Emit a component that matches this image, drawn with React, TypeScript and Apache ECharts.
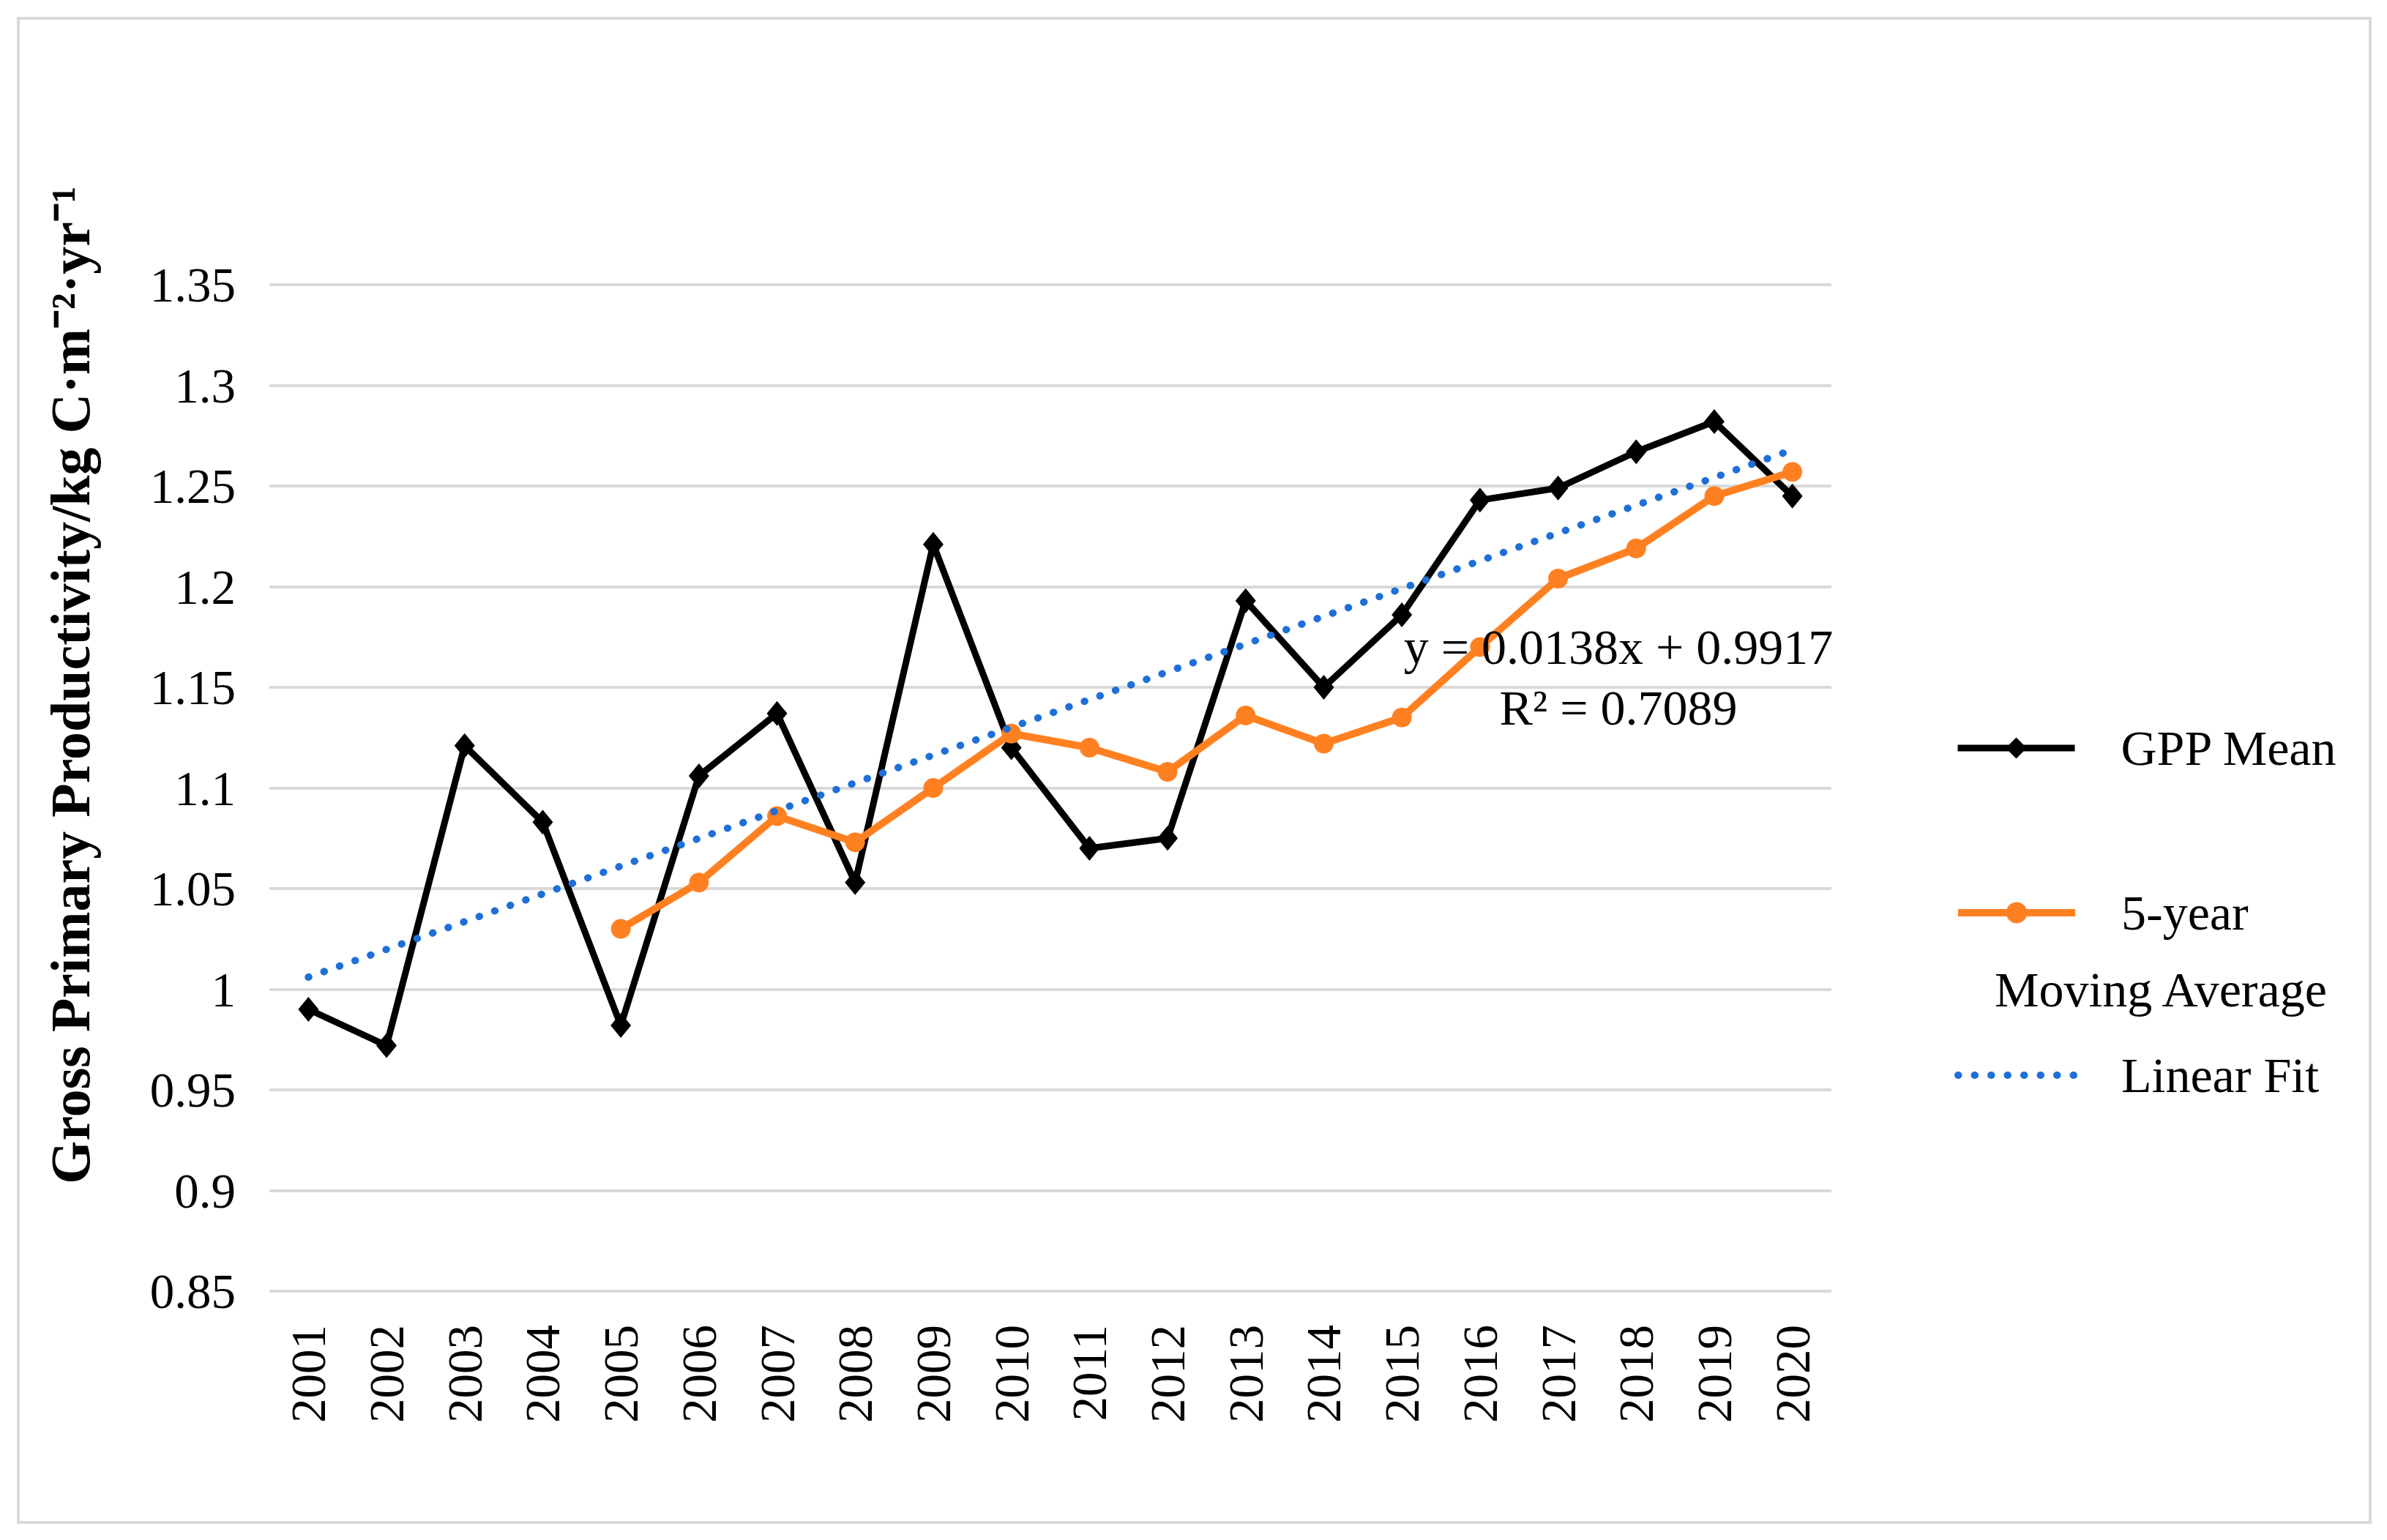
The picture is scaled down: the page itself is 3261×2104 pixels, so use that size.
import React, { useEffect, useRef } from "react";
import * as echarts from "echarts";

const years = ["2001","2002","2003","2004","2005","2006","2007","2008","2009","2010","2011","2012","2013","2014","2015","2016","2017","2018","2019","2020"];
const gppMean = [0.99, 0.972, 1.121, 1.083, 0.982, 1.106, 1.137, 1.053, 1.221, 1.12, 1.07, 1.075, 1.193, 1.15, 1.186, 1.243, 1.249, 1.267, 1.282, 1.245];
const movingAvg = [null, null, null, null, 1.03, 1.053, 1.086, 1.073, 1.1, 1.127, 1.12, 1.108, 1.136, 1.122, 1.135, 1.17, 1.204, 1.219, 1.245, 1.257];
const linearFit = [1.006, null, null, null, null, null, null, null, null, null, null, null, null, null, null, null, null, null, null, 1.268];
const equationText = "y = 0.0138x + 0.9917";
const r2Text = "R\u00B2 = 0.7089";
const yTitle = "Gross Primary Productivity/kg C\u00B7m\u207B\u00B2\u00B7yr\u207B\u00B9";

const FONT = '"Liberation Serif", "Times New Roman", serif';
const BLACK = "#000000";
const ORANGE = "#FF8021";
const BLUE = "#1F6FD8";
const DOTS = [0.5, 22];

export default function App() {
  const ref = useRef<HTMLDivElement>(null);
  useEffect(() => {
    if (!ref.current) return;
    const chart = echarts.init(ref.current, undefined, { renderer: "svg" });
    const legendBase = {
      orient: "vertical",
      left: 2665,
      itemWidth: 160,
      itemHeight: 36,
      selectedMode: false,
      textStyle: { fontFamily: FONT, fontSize: 68, color: "#000", lineHeight: 80, padding: [0, 0, 0, 58] },
    };
    chart.setOption({
      animation: false,
      backgroundColor: "#ffffff",
      grid: { left: 368, top: 389, width: 2134, height: 1375, containLabel: false },
      xAxis: {
        type: "category",
        data: years,
        boundaryGap: true,
        axisLine: { show: false },
        axisTick: { show: false },
        axisLabel: { rotate: 90, margin: 46, fontFamily: FONT, fontSize: 67, color: "#000" },
        splitLine: { show: false },
      },
      yAxis: {
        type: "value",
        min: 0.85,
        max: 1.35,
        interval: 0.05,
        axisLine: { show: false },
        axisTick: { show: false },
        axisLabel: { margin: 46, fontFamily: FONT, fontSize: 67, color: "#000" },
        splitLine: { show: true, lineStyle: { color: "#D9D9D9", width: 4 } },
      },
      legend: [
        {
          ...legendBase,
          top: 977,
          data: [{ name: "GPP Mean", lineStyle: { width: 9, color: BLACK } }],
        },
        {
          ...legendBase,
          top: 1202,
          data: [{ name: "5-year Moving Average", lineStyle: { width: 10, color: ORANGE } }],
          formatter: () => "5-year",
        },
        {
          ...legendBase,
          top: 1424,
          data: [
            {
              name: "Linear Fit",
              itemStyle: { opacity: 0 },
              lineStyle: { width: 10, color: BLUE, type: DOTS, cap: "round" },
            },
          ],
        },
      ],
      graphic: [
        {
          type: "rect",
          shape: { x: 25, y: 25, width: 3213, height: 2055 },
          style: { fill: "none", stroke: "#D9D9D9", lineWidth: 4 },
          silent: true,
        },
        {
          type: "text",
          x: 96,
          y: 936,
          rotation: Math.PI / 2,
          style: {
            text: yTitle,
            fontFamily: FONT,
            fontSize: 76,
            fontWeight: "bold",
            fill: "#000",
            align: "center",
            verticalAlign: "middle",
          },
        },
        {
          type: "text",
          x: 2211,
          y: 884,
          z: 100,
          style: { text: equationText, fontFamily: FONT, fontSize: 68, fill: "#000", align: "center", verticalAlign: "middle" },
        },
        {
          type: "text",
          x: 2211,
          y: 967,
          z: 100,
          style: { text: r2Text, fontFamily: FONT, fontSize: 68, fill: "#000", align: "center", verticalAlign: "middle" },
        },
        {
          type: "text",
          x: 2725,
          y: 1352,
          style: { text: "Moving Average", fontFamily: FONT, fontSize: 68, fill: "#000", align: "left", verticalAlign: "middle" },
        },
      ],
      series: [
        {
          name: "GPP Mean",
          type: "line",
          data: gppMean,
          z: 2,
          symbol: "diamond",
          symbolSize: [28, 34],
          itemStyle: { color: BLACK },
          lineStyle: { color: BLACK, width: 9 },
        },
        {
          name: "5-year Moving Average",
          type: "line",
          data: movingAvg,
          z: 3,
          symbol: "circle",
          symbolSize: 27,
          itemStyle: { color: ORANGE },
          lineStyle: { color: ORANGE, width: 10 },
        },
        {
          name: "Linear Fit",
          type: "line",
          data: linearFit,
          connectNulls: true,
          z: 4,
          symbol: "none",
          itemStyle: { color: BLUE },
          lineStyle: { color: BLUE, width: 10, type: DOTS, cap: "round" },
        },
      ],
    });
    return () => chart.dispose();
  }, []);
  return <div ref={ref} style={{ position: "fixed", left: 0, top: 0, width: "100vw", height: "100vh" }} />;
}
